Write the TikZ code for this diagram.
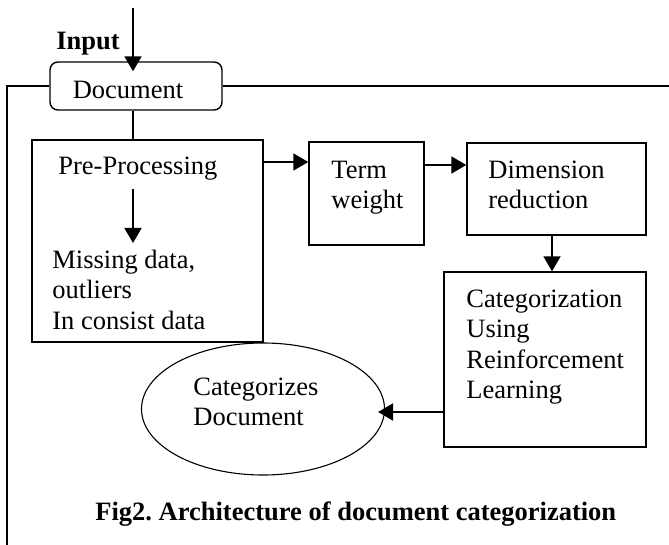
\documentclass[tikz,border=0pt]{standalone}
\usepackage{fontspec}
\setmainfont{Liberation Serif}
\usetikzlibrary{arrows.meta,fit,shapes.geometric}

\begin{document}
\begin{tikzpicture}[x=0.5pt,y=-0.5pt,
		font=\fontsize{13.25}{15.25}\selectfont,
		box/.style={draw, line width=0.7pt, inner sep=0pt},
		txt/.style={inner sep=0pt, align=left, anchor=north west},
		lbl/.style={inner sep=0pt, anchor=base west},
		arr/.style={-{Triangle[length=7.5pt,width=8.5pt]}, line width=0.95pt}]
		\useasboundingbox (0,0) rectangle (669,545);
		% blocks
		\node[box, rounded corners=4pt, fit={(50,62) (222,110)}] (doc) {};
		\node[box, fit={(32,140) (263,342)}] (pre) {};
		\node[box, fit={(309,142) (424,245)}] (term) {};
		\node[box, fit={(467,143) (646,235)}] (dim) {};
		\node[box, fit={(444,272) (646,447)}] (cat) {};
		\node[draw, ellipse, line width=0.55pt, inner sep=0pt,
			minimum width=121.5pt, minimum height=66pt] (res) at (263,409) {};
		% texts
		\node[lbl] (input) at (56,50) {\textbf{Input}};
		\node[inner sep=0pt, anchor=base] (doctxt) at (128,99) {Document};
		\node[lbl] (pretxt) at (58,175) {Pre-Processing};
		\node[txt] (misstxt) at (52,246.6) {\strut Missing data,\\outliers\\In consist data};
		\node[txt] (termtxt) at (331,156.6) {\strut Term\\weight};
		\node[txt] (dimtxt) at (488,156.6) {\strut Dimension\\reduction};
		\node[txt] (cattxt) at (466,285.6) {\strut Categorization\\Using\\Reinforcement\\Learning};
		\node[txt] (restxt) at (193,373.6) {\strut Categorizes\\Document};
		\node[lbl] (caption) at (95,520) {\textbf{Fig2.\ Architecture of document categorization}};
		% helper points for the connectors
		\coordinate (src) at (133,8);
		\coordinate (pa) at (133,189);
		\coordinate (pb) at (133,243);
		\coordinate (r1) at (0,162);
		\coordinate (r2) at (0,165);
		\coordinate (r3) at (0,412);
		\coordinate (c1) at (552,0);
		\coordinate (fl) at (7,545);
		\coordinate (fr) at (669,85);
		% outer frame
		\draw[line width=0.75pt] (doc.west) -| (fl);
		\draw[line width=0.75pt] (doc.east) -- (doc.east -| fr);
		% connectors
		\draw[arr, shorten >=-5pt] (src) -- (src |- doc.north);
		\draw[line width=0.75pt] (src |- doc.south) -- (src |- pre.north);
		\draw[arr] (pa) -- (pb);
		\draw[arr] (pre.east |- r1) -- (term.west |- r1);
		\draw[arr] (term.east |- r2) -- (dim.west |- r2);
		\draw[arr] (dim.south -| c1) -- (cat.north -| c1);
		\draw[arr, shorten >=-3.5pt] (cat.west |- r3) -- (res.east |- r3);
	\end{tikzpicture}
\end{document}
